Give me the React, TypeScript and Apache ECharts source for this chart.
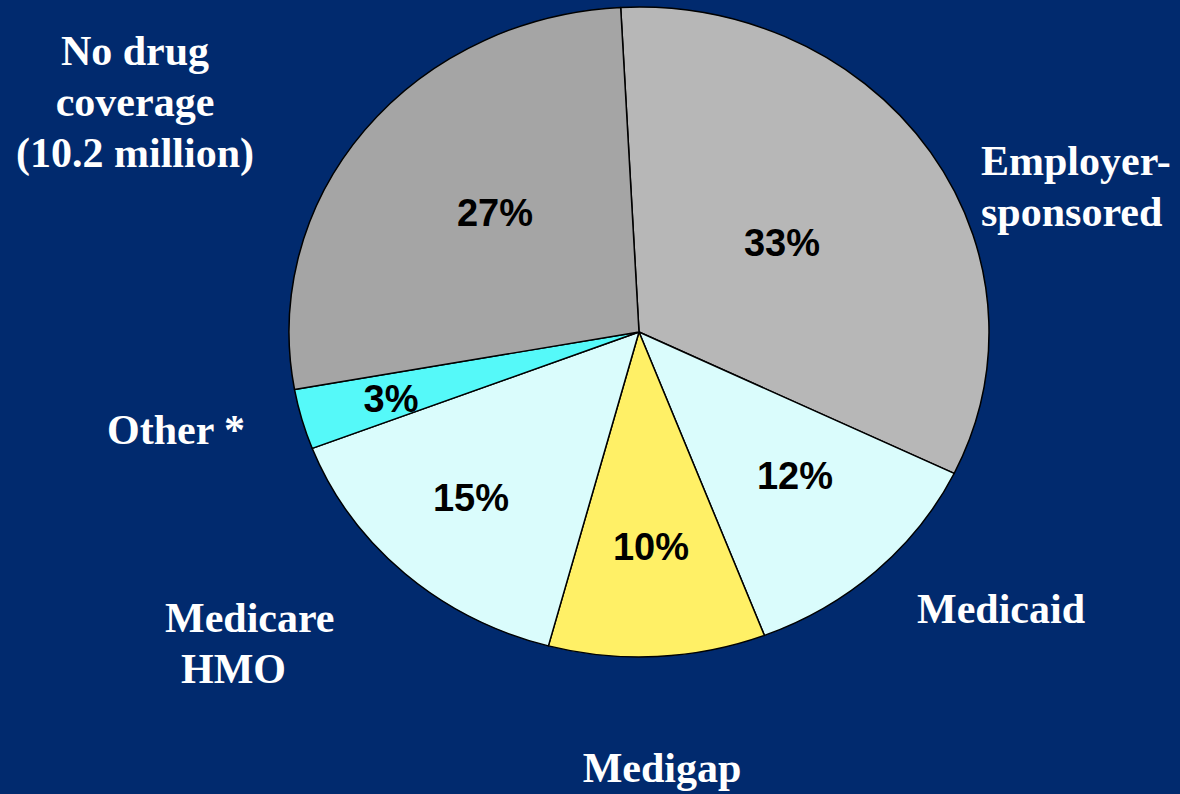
import React, { useEffect, useRef } from "react";
import * as echarts from "echarts";

// Data
const categories = [
  "Employer-sponsored",
  "Medicaid",
  "Medigap",
  "Medicare HMO",
  "Other *",
  "No drug coverage (10.2 million)",
];
const shares = [33, 12, 10, 15, 3, 27];
const outerLabelLines = [
  ["Employer-", "sponsored"],
  ["Medicaid"],
  ["Medigap"],
  ["Medicare", "HMO"],
  ["Other *"],
  ["No drug", "coverage", "(10.2 million)"],
];

// Styling / layout (kept apart from data)
const sliceColors = ["#B7B7B7", "#DAFCFC", "#FFF066", "#DAFCFC", "#55F9F9", "#A5A5A5"];
const BG = "#012A6E";
const CX = 639;
const CY = 332;
const RY = 325; // vertical radius
const RX = 350; // horizontal radius (the original pie is slightly oval)
const pctPos: [number, number][] = [
  [782, 243],
  [795, 476],
  [651, 547],
  [471, 498],
  [391, 399],
  [495, 213],
];
const namePos: { x: number; y: number; align: string; indent?: number[] }[] = [
  { x: 981, y: 186, align: "left" },
  { x: 1001, y: 609, align: "center" },
  { x: 662, y: 768, align: "center" },
  { x: 165, y: 643, align: "left", indent: [0, 16] },
  { x: 176, y: 430, align: "center" },
  { x: 135, y: 102, align: "center" },
];

const pieBase = {
  type: "pie",
  center: [CX, CY],
  radius: RY,
  startAngle: 93,
  clockwise: true,
  silent: true,
  avoidLabelOverlap: false,
  emphasis: { disabled: true },
};

export default function App() {
  const pieRef = useRef<HTMLDivElement>(null);
  const textRef = useRef<HTMLDivElement>(null);
  useEffect(() => {
    if (!pieRef.current || !textRef.current) return;
    const pieChart = echarts.init(pieRef.current, undefined, { renderer: "svg" });
    const textChart = echarts.init(textRef.current, undefined, { renderer: "svg" });

    pieChart.setOption({
      animation: false,
      series: [
        {
          ...pieBase,
          data: categories.map((n, i) => ({
            name: n,
            value: shares[i],
            itemStyle: { color: sliceColors[i] },
          })),
          itemStyle: { borderColor: "#000000", borderWidth: 1.4 },
          label: { show: false },
          labelLine: { show: false },
        },
      ],
    });

    const graphics = outerLabelLines.map((lines, i) => {
      const p = namePos[i];
      const rich: Record<string, any> = {};
      const text = lines
        .map((l, j) => {
          const key = "l" + j;
          rich[key] = { padding: [0, 0, 0, p.indent ? p.indent[j] : 0] };
          return `{${key}|${l}}`;
        })
        .join("\n");
      return {
        type: "text",
        x: p.x,
        y: p.y,
        silent: true,
        style: {
          text,
          rich,
          fill: "#FFFFFF",
          fontFamily: '"Liberation Serif", "Times New Roman", serif',
          fontWeight: "bold",
          fontSize: 42,
          lineHeight: 51,
          align: p.align,
          verticalAlign: "middle",
          textAlign: p.align,
          textVerticalAlign: "middle",
        },
      };
    });

    textChart.setOption({
      animation: false,
      graphic: graphics,
      series: [
        {
          ...pieBase,
          data: categories.map((n, i) => ({
            name: n,
            value: shares[i],
            itemStyle: { color: "rgba(0,0,0,0)", borderWidth: 0 },
          })),
          label: {
            show: true,
            position: "inside",
            formatter: "{c}%",
            color: "#000000",
            fontFamily: '"Liberation Sans", Arial, sans-serif',
            fontWeight: "bold",
            fontSize: 38,
          },
          labelLine: { show: false },
          labelLayout: (params: any) => ({
            x: pctPos[params.dataIndex][0],
            y: pctPos[params.dataIndex][1],
            align: "center",
            verticalAlign: "middle",
          }),
        },
      ],
    });
    return () => {
      pieChart.dispose();
      textChart.dispose();
    };
  }, []);
  return (
    <div
      style={{
        position: "fixed",
        left: 0,
        top: 0,
        width: 1180,
        height: 794,
        background: BG,
        overflow: "hidden",
      }}
    >
      <div
        ref={pieRef}
        style={{
          position: "absolute",
          left: 0,
          top: 0,
          width: 1180,
          height: 794,
          transform: `scaleX(${RX / RY})`,
          transformOrigin: `${CX}px ${CY}px`,
        }}
      />
      <div
        ref={textRef}
        style={{ position: "absolute", left: 0, top: 0, width: 1180, height: 794 }}
      />
    </div>
  );
}
